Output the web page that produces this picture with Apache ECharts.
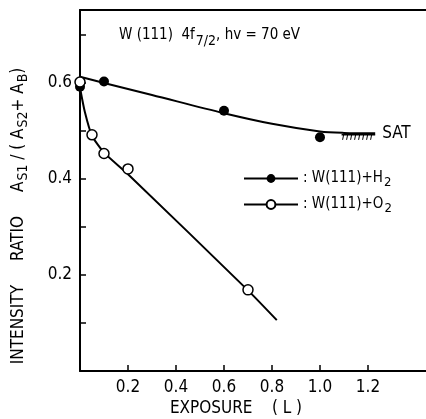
<!DOCTYPE html>
<html><head><meta charset="utf-8">
<script src="https://cdn.jsdelivr.net/npm/echarts@6/dist/echarts.min.js"></script>
<style>html,body{margin:0;padding:0;background:#fff}#c{width:426px;height:419px}</style>
</head><body><div id="c"></div>
<script>
// ---- data ----
const h2X = [0, 0.1, 0.6, 1.0];
const h2Y = [0.592, 0.603, 0.542, 0.487];
const o2X = [0, 0.05, 0.1, 0.2, 0.7];
const o2Y = [0.602, 0.492, 0.453, 0.421, 0.169];
const h2FitX = [0, 0.1, 0.3, 0.6, 0.8, 1.0, 1.1, 1.23];
const h2FitY = [0.613, 0.600, 0.575, 0.537, 0.515, 0.499, 0.496, 0.495];
const o2FitX = [0, 0.02, 0.05, 0.1, 0.2, 0.7, 0.82];
const o2FitY = [0.59, 0.54, 0.49, 0.455, 0.41, 0.168, 0.106];
const satX = [1.09, 1.23];
const satY = 0.494;
const xTickValues = [0.2, 0.4, 0.6, 0.8, 1.0, 1.2];
const yTickValues = [0.1, 0.2, 0.3, 0.4, 0.5, 0.6, 0.7];
const yLabelValues = [0.2, 0.4, 0.6];
const seriesNames = ['W(111) + H2', 'W(111) + O2'];

const FONT = "'Liberation Sans Narrow', 'DejaVu Sans Condensed', 'Liberation Sans', Arial, sans-serif";
const zip = (xs, ys) => xs.map((x, i) => [x, ys[i]]);

const chart = echarts.init(document.getElementById('c'), null, {renderer: 'canvas'});
const subRich = {
  t: {fontFamily: FONT, fontSize: 15, color: '#000'},
  s: {fontFamily: FONT, fontSize: 13, color: '#000', padding: [9, 0, 0, 1]}
};
chart.setOption({
  animation: false,
  backgroundColor: '#fff',
  grid: {left: 80, right: 0, top: 10, bottom: 48},
  xAxis: [{
    type: 'value', min: 0, max: 1.4417, position: 'bottom',
    splitLine: {show: false},
    axisLine: {lineStyle: {color: '#000', width: 2}},
    axisTick: {inside: true, length: 6, customValues: xTickValues, lineStyle: {color: '#000', width: 1.5}},
    axisLabel: {customValues: xTickValues, margin: 8, color: '#000', fontFamily: FONT, fontSize: 17,
      formatter: v => v.toFixed(1)}
  }, {
    type: 'value', min: 0, max: 1.4417, position: 'top',
    splitLine: {show: false},
    axisLine: {lineStyle: {color: '#000', width: 2}},
    axisTick: {show: false}, axisLabel: {show: false}
  }],
  yAxis: {
    type: 'value', min: 0, max: 0.752,
    splitLine: {show: false},
    axisLine: {lineStyle: {color: '#000', width: 2}},
    axisTick: {inside: true, length: 6, customValues: yTickValues, lineStyle: {color: '#000', width: 1.5}},
    axisLabel: {customValues: yLabelValues, margin: 8, color: '#000', fontFamily: FONT, fontSize: 17,
      formatter: v => v.toFixed(1)}
  },
  legend: [0, 1].map(i => ({
    data: [seriesNames[i]],
    left: 243, top: i === 0 ? 171 : 197, padding: 0,
    itemWidth: 54, itemHeight: 11, itemGap: 0,
    selectedMode: false,
    formatter: n => '{t|: W(111)+H}{s|2}'.replace('H', i === 0 ? 'H' : 'O'),
    textStyle: {rich: subRich}
  })),
  graphic: [
    {type: 'text', left: 119, top: 28, style: {
      text: '{t|W (111)  4f}{s|7/2}{t|, hv = 70 eV}', rich: {
        t: {fontFamily: FONT, fontSize: 15, color: '#000'},
        s: {fontFamily: FONT, fontSize: 14, color: '#000', padding: [11, 0, 0, 1]}
      }}},
    {type: 'text', x: 19, y: 216, rotation: Math.PI / 2, style: {
      text: '{t|INTENSITY}{g|}{t|RATIO}{g|}{t|A}{s|S1}{t| / ( A}{s|S2}{t|+ A}{s|B}{t|)}',
      align: 'center', verticalAlign: 'middle',
      rich: {
        t: {fontFamily: FONT, fontSize: 17, color: '#000'},
        s: {fontFamily: FONT, fontSize: 14, color: '#000', padding: [9, 0, 0, 1]},
        g: {width: 24}
      }}},
    {type: 'text', x: 236, y: 409, style: {
      text: 'EXPOSURE    ( L )', align: 'center', verticalAlign: 'middle',
      fontFamily: FONT, fontSize: 17, fill: '#000'}}
  ],
  series: [
    {name: seriesNames[0], type: 'line', data: zip(h2FitX, h2FitY), smooth: 0.3,
      showSymbol: false, symbol: 'circle', symbolSize: 10,
      lineStyle: {color: '#000', width: 2}, itemStyle: {color: '#000', borderColor: '#000', opacity: 1}, z: 2},
    {name: seriesNames[1], type: 'line', data: zip(o2FitX, o2FitY), smooth: 0.2,
      showSymbol: false, symbol: 'circle', symbolSize: 10,
      lineStyle: {color: '#000', width: 2}, itemStyle: {color: '#fff', borderColor: '#000', borderWidth: 1.5, opacity: 1}, z: 2},
    {name: 'h2pts', type: 'scatter', data: zip(h2X, h2Y), symbol: 'circle', symbolSize: 10,
      itemStyle: {color: '#000', opacity: 1}, z: 3},
    {name: 'o2pts', type: 'scatter', data: zip(o2X, o2Y), symbol: 'circle', symbolSize: 10,
      itemStyle: {color: '#fff', borderColor: '#000', borderWidth: 1.5, opacity: 1}, z: 4},
    {name: 'sat', type: 'custom', silent: true, z: 3, data: [[satX[0], satY]],
      renderItem: function (params, api) {
        const p0 = api.coord([satX[0], satY]);
        const p1 = api.coord([satX[1], satY]);
        const children = [{type: 'line', shape: {x1: p0[0], y1: p0[1] + 1, x2: p1[0], y2: p1[1] + 1},
          style: {stroke: '#000', lineWidth: 1.5}}];
        for (let x = p0[0] + 2; x <= p1[0]; x += 4) {
          children.push({type: 'line', shape: {x1: x, y1: p0[1] + 1, x2: x - 1, y2: p0[1] + 6},
            style: {stroke: '#000', lineWidth: 1}});
        }
        children.push({type: 'text', x: p1[0] + 7, y: p1[1], style: {text: 'SAT',
          fontFamily: FONT, fontSize: 17, fill: '#000', textVerticalAlign: 'middle', verticalAlign: 'middle'}});
        return {type: 'group', children: children};
      }}
  ]
});
</script></body></html>
